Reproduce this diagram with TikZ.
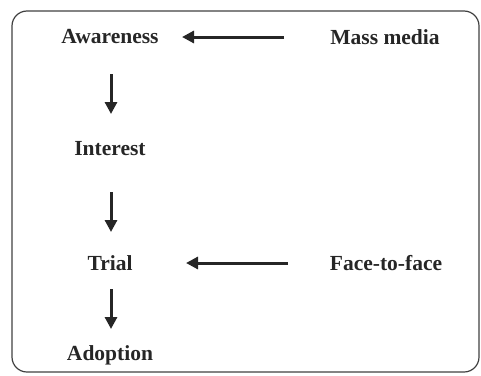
\documentclass[tikz,border=0pt]{standalone}
\usepackage{fontspec}
\setmainfont{Liberation Serif}
\usetikzlibrary{arrows.meta}
\begin{document}
\begin{tikzpicture}[x=1pt,y=-1pt,
  lbl/.style={font=\fontsize{21.5}{24}\selectfont\bfseries, text=black!85, inner sep=0pt},
  arr/.style={line width=3pt, draw=black!85, -{Triangle[width=12pt,length=12pt]}}]
\useasboundingbox (0,0) rectangle (481,375);
\draw[line width=1.2pt, draw=black!75, rounded corners=15pt] (12,11) rectangle (479,372);
\node[lbl] (aw) at (110,37) {Awareness};
\node[lbl] (mm) at (385,37) {Mass media};
\node[lbl] (in) at (110,149) {Interest};
\node[lbl] (tr) at (110,263) {Trial};
\node[lbl] (ff) at (386,263) {Face-to-face};
\node[lbl] (ad) at (110,355) {Adoption};
\coordinate (a1s) at (284,37); \coordinate (a1e) at (182,37);
\coordinate (a2s) at (288,263); \coordinate (a2e) at (186,263);
\draw[arr] (a1s) -- (a1e);
\draw[arr] (a2s) -- (a2e);
\coordinate (d1s) at (111,74); \coordinate (d1e) at (111,114);
\coordinate (d2s) at (111,192); \coordinate (d2e) at (111,232);
\coordinate (d3s) at (111,289); \coordinate (d3e) at (111,329);
\draw[arr] (d1s) -- (d1e);
\draw[arr] (d2s) -- (d2e);
\draw[arr] (d3s) -- (d3e);
\end{tikzpicture}
\end{document}
